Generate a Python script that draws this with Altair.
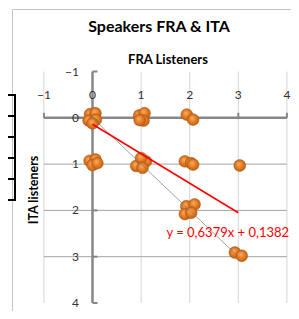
import altair as alt
import pandas as pd

# ---------------- data ----------------
fra = [-0.05, 0.06, -0.08, 0.07, 0.0,          # cluster (0,0)
       0.96, 1.07, 1.05, 0.97,                 # cluster (1,0)
       1.94, 2.07,                             # cluster (2,0)
       -0.06, 0.06, 0.0, 0.1,                  # cluster (0,1)
       0.9, 1.1, 1.0, 1.03,                    # cluster (1,1)
       1.9, 2.03, 2.07,                        # cluster (2,1)
       3.03,                                   # (3,1)
       1.93, 2.1, 1.9, 2.03,                   # cluster (2,2)
       2.93, 3.07]                             # cluster (3,3)
ita = [-0.08, -0.1, 0.06, 0.04, 0.12,
       -0.05, -0.1, 0.06, 0.05,
       -0.07, 0.04,
       0.93, 0.9, 1.02, 0.98,
       1.04, 0.94, 0.87, 1.08,
       0.94, 0.98, 1.01,
       1.03,
       1.91, 1.87, 2.08, 2.05,
       2.91, 2.98]

tick_values = [-1, 0, 1, 2, 3, 4]
vgrid_values = [-1, 1, 2, 3, 4]
hgrid_values = [1, 2, 3]
slope, intercept = 0.6379, 0.1382
trend_x = [0, 3]
diag = [0, 3]
equation = "y = 0,6379x + 0,1382"

# ---------------- layout ----------------
W, H = 283, 303
X0, X1 = -1.7387, 4.0843
Y0, Y1 = -2.3715, 4.1728
FONT = "Lato"

xs = alt.Scale(domain=[X0, X1], nice=False, zero=False)
ys = alt.Scale(domain=[Y0, Y1], nice=False, zero=False, reverse=True)


def X(f):
    return alt.X(f, type="quantitative", scale=xs, axis=None)


def Y(f):
    return alt.Y(f, type="quantitative", scale=ys, axis=None)


pts = pd.DataFrame({"x": fra, "y": ita})

vgrid = alt.Chart(pd.DataFrame({"x": vgrid_values, "y": -1, "y2": 4})).mark_rule(
    color="#d6d6d6", strokeWidth=1
).encode(x=X("x"), y=Y("y"), y2="y2")

hgrid = alt.Chart(pd.DataFrame({"y": hgrid_values, "x": -1, "x2": 4})).mark_rule(
    color="#a3a3a3", strokeWidth=1
).encode(y=Y("y"), x=X("x"), x2="x2")

haxis = alt.Chart(pd.DataFrame({"y": [0], "x": -1, "x2": 4})).mark_rule(
    color="#878787", strokeWidth=2.5
).encode(y=Y("y"), x=X("x"), x2="x2")

vaxis = alt.Chart(pd.DataFrame({"x": [0], "y": -1, "y2": 4})).mark_rule(
    color="#878787", strokeWidth=2.5
).encode(x=X("x"), y=Y("y"), y2="y2")

yticks = alt.Chart(pd.DataFrame({"y": tick_values, "x": 0, "x2": 0})).mark_rule(
    color="#878787", strokeWidth=2, x2Offset=5
).encode(y=Y("y"), x=X("x"), x2="x2")

xticks = alt.Chart(pd.DataFrame({"x": tick_values, "y": 0, "y2": 0})).mark_rule(
    color="#878787", strokeWidth=2, y2Offset=-5
).encode(x=X("x"), y=Y("y"), y2="y2")

grad = alt.RadialGradient(
    gradient="radial",
    stops=[
        alt.GradientStop(color="#f8b06a", offset=0),
        alt.GradientStop(color="#e47b22", offset=0.55),
        alt.GradientStop(color="#b85c12", offset=1),
    ],
    x1=0.4, y1=0.35, r1=0, x2=0.5, y2=0.5, r2=0.55,
)
points = alt.Chart(pts).mark_circle(
    fill=grad, stroke="#a85515", strokeWidth=0.5, opacity=1, size=140
).encode(x=X("x"), y=Y("y"))

diag_line = alt.Chart(pd.DataFrame({"x": diag, "y": diag})).mark_line(
    color="#7a7a7a", strokeWidth=0.7
).encode(x=X("x"), y=Y("y"))

trend = alt.Chart(
    pd.DataFrame({"x": trend_x, "y": [slope * v + intercept for v in trend_x]})
).mark_line(color="#ff0000", strokeWidth=1.6).encode(x=X("x"), y=Y("y"))

xlabels = alt.Chart(pd.DataFrame({"v": tick_values})).mark_text(
    font=FONT, fontSize=12, color="#333333", baseline="middle", align="center"
).encode(x=X("v"), y=alt.value(87), text=alt.Text("v:Q", format="d"))

ylabels = alt.Chart(pd.DataFrame({"v": tick_values})).mark_text(
    font=FONT, fontSize=12, color="#333333", baseline="middle", align="right"
).encode(y=Y("v"), x=alt.value(71), text=alt.Text("v:Q", format="d"))

base_txt = alt.Chart(pd.DataFrame({"a": [0]}))
title = base_txt.mark_text(
    font=FONT, fontSize=16, fontWeight="bold", color="#000000",
    align="center", baseline="middle"
).encode(x=alt.value(151), y=alt.value(19), text=alt.value("Speakers FRA & ITA"))

xtitle = base_txt.mark_text(
    font=FONT, fontSize=13, fontWeight="bold", color="#000000",
    align="center", baseline="middle"
).encode(x=alt.value(160), y=alt.value(52), text=alt.value("FRA Listeners"))

ytitle = base_txt.mark_text(
    font=FONT, fontSize=12.5, fontWeight="bold", color="#000000",
    align="center", baseline="middle", angle=270
).encode(x=alt.value(25.5), y=alt.value(182), text=alt.value("ITA listeners"))

eq = base_txt.mark_text(
    font=FONT, fontSize=13, color="#ff0000", align="left", baseline="middle"
).encode(x=alt.value(158.5), y=alt.value(225), text=alt.value(equation))

# chart frame and the edge of the neighbouring table (decoration)
frame_v = base_txt.mark_rule(color="#c4c4c4", strokeWidth=1).encode(
    x=alt.value(4.5), y=alt.value(1.5), y2=alt.value(H))
frame_h = base_txt.mark_rule(color="#c4c4c4", strokeWidth=1).encode(
    y=alt.value(1.5), x=alt.value(4.5), x2=alt.value(W))
table_rows = [87, 108, 129, 150, 171, 192]
table_h = [
    base_txt.mark_rule(color="#000000", strokeWidth=2).encode(
        y=alt.value(r), x=alt.value(0), x2=alt.value(8))
    for r in table_rows
]
table_v = base_txt.mark_rule(color="#000000", strokeWidth=2).encode(
    x=alt.value(7), y=alt.value(87), y2=alt.value(192))

chart = alt.layer(
    frame_v, frame_h, *table_h, table_v,
    vgrid, hgrid, haxis, vaxis, yticks, xticks,
    points, diag_line, trend,
    xlabels, ylabels, title, xtitle, ytitle, eq,
).properties(
    width=W, height=H, padding=0, autosize=alt.AutoSizeParams(type="none")
).configure_view(stroke=None)

chart.save("out.html", embed_options={"renderer": "svg", "actions": False})
